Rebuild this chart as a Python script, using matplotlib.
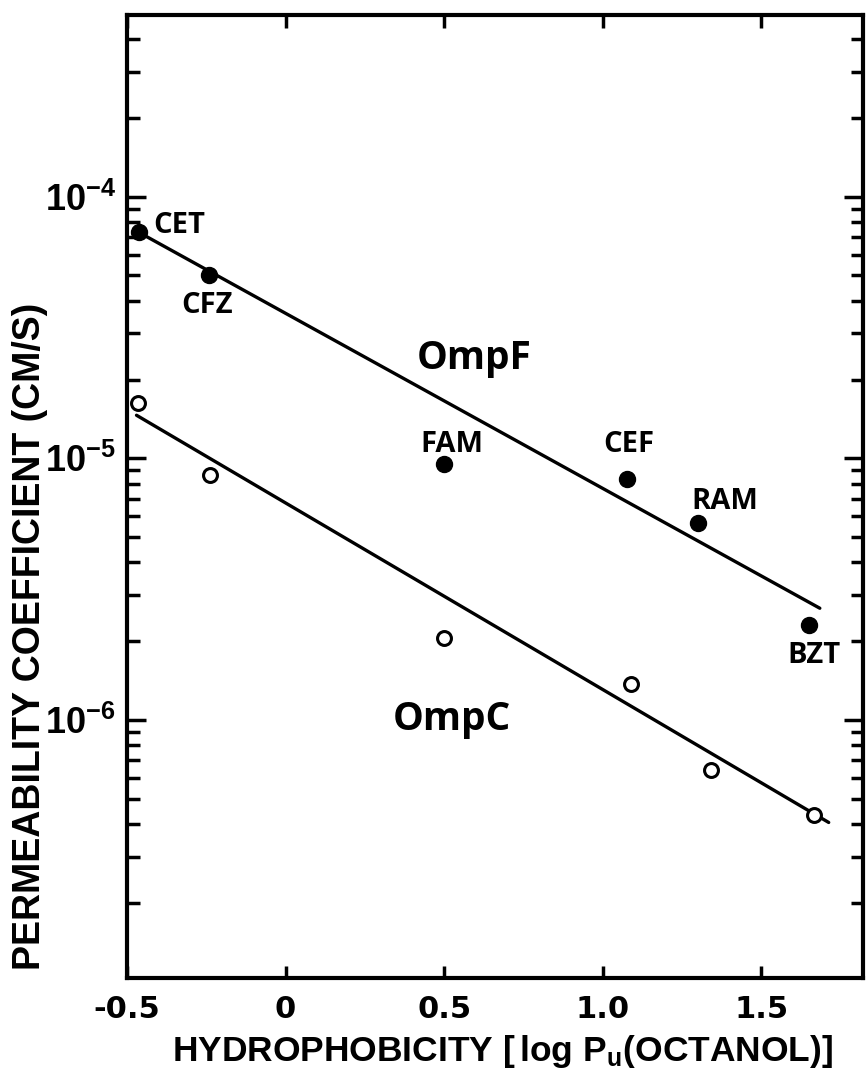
import matplotlib
matplotlib.use("Agg")
import matplotlib.pyplot as plt
from matplotlib import font_manager
from matplotlib.ticker import FixedLocator, FixedFormatter, LogLocator, NullFormatter

# ---------------- data ----------------
ompf_x = [-0.462, -0.24, 0.50, 1.076, 1.30, 1.65]
ompf_y = [7.35e-5, 5.0e-5, 9.5e-6, 8.3e-6, 5.65e-6, 2.3e-6]
ompf_names = ["CET", "CFZ", "FAM", "CEF", "RAM", "BZT"]
ompf_fit_x = [-0.462, 1.684]
ompf_fit_y = [7.3e-5, 2.67e-6]

ompc_x = [-0.465, -0.237, 0.50, 1.09, 1.34, 1.665]
ompc_y = [1.62e-5, 8.6e-6, 2.05e-6, 1.37e-6, 6.4e-7, 4.33e-7]
ompc_fit_x = [-0.47, 1.712]
ompc_fit_y = [1.46e-5, 4.05e-7]

xticks = [-0.5, 0, 0.5, 1.0, 1.5]
xticklabels = ["-0.5", "0", "0.5", "1.0", "1.5"]
yticks = [1e-6, 1e-5, 1e-4]
yticklabels = [r"10$^{-6}$", r"10$^{-5}$", r"10$^{-4}$"]

names = {f.name for f in font_manager.fontManager.ttflist}
narrow = "Liberation Sans Narrow" if "Liberation Sans Narrow" in names else "Liberation Sans"
wide = "DejaVu Sans"
label_font = "Open Sans"

plt.rcParams["mathtext.fontset"] = "custom"
plt.rcParams["mathtext.rm"] = narrow + ":bold"
plt.rcParams["mathtext.bf"] = narrow + ":bold"
plt.rcParams["mathtext.it"] = narrow + ":bold"

fig = plt.figure(figsize=(8.68, 10.72), dpi=100)
ax = fig.add_axes([0.1463, 0.0877, 0.8479, 0.8983])
ax.set_yscale("log")
ax.set_xlim(-0.5, 1.82)
ax.set_ylim(1.03e-7, 4.95e-4)

ax.plot(ompf_fit_x, ompf_fit_y, color="black", lw=2.4, solid_capstyle="round")
ax.plot(ompc_fit_x, ompc_fit_y, color="black", lw=2.4, solid_capstyle="round")
ax.plot(ompf_x, ompf_y, "o", color="black", ms=11.5, zorder=3)
ax.plot(ompc_x, ompc_y, "o", mfc="white", mec="black", mew=2.2, ms=10, zorder=3)

# label offsets in pixels: (text centre x - point x, baseline height above point)
offsets = {"CET": (40, -1), "CFZ": (-2, -38), "FAM": (8, 12), "CEF": (2, 27),
           "RAM": (27, 14), "BZT": (5, -38)}
for n, x, y in zip(ompf_names, ompf_x, ompf_y):
    dx, dy = offsets[n]
    ax.annotate(n, (x, y), xytext=(dx * 0.72, dy * 0.72), textcoords="offset points",
                ha="center", va="baseline", fontsize=21, fontweight="bold",
                family=label_font)

ax.text(0.595, 2.19e-5, "OmpF", ha="center", va="baseline", fontsize=28,
        fontweight="bold", family=label_font)
ax.text(0.525, 9.16e-7, "OmpC", ha="center", va="baseline", fontsize=28,
        fontweight="bold", family=label_font)

for s in ax.spines.values():
    s.set_linewidth(3)

ax.xaxis.set_major_locator(FixedLocator(xticks))
ax.xaxis.set_major_formatter(FixedFormatter(xticklabels))
ax.yaxis.set_major_locator(FixedLocator(yticks))
ax.yaxis.set_major_formatter(FixedFormatter(yticklabels))
ax.yaxis.set_minor_locator(LogLocator(base=10, subs=range(2, 10)))
ax.yaxis.set_minor_formatter(NullFormatter())
ax.tick_params(axis="both", which="both", direction="in", top=True, right=True,
               width=2.5, color="black")
ax.tick_params(axis="y", which="major", length=14, pad=8)
ax.tick_params(axis="y", which="minor", length=9)
ax.tick_params(axis="x", which="major", length=9, pad=12)
ax.tick_params(axis="x", which="minor", length=0)
for lab in ax.get_xticklabels():
    lab.set_family(wide)
    lab.set_fontsize(22)
    lab.set_fontweight("bold")
for lab in ax.get_yticklabels():
    lab.set_family(narrow)
    lab.set_fontsize(26)
    lab.set_fontweight("bold")

ax.set_ylabel("PERMEABILITY COEFFICIENT (CM/S)", family=narrow, fontsize=27,
              fontweight="bold")
ax.yaxis.set_label_coords(-0.107, 0.355)
ax.set_xlabel(r"HYDROPHOBICITY $\left[\,\mathrm{log\ P_u (OCTANOL)}\right]$",
              family=narrow, fontsize=25.5, fontweight="bold")
ax.xaxis.set_label_coords(0.51, -0.057)

fig.savefig("out.png", dpi=100)
